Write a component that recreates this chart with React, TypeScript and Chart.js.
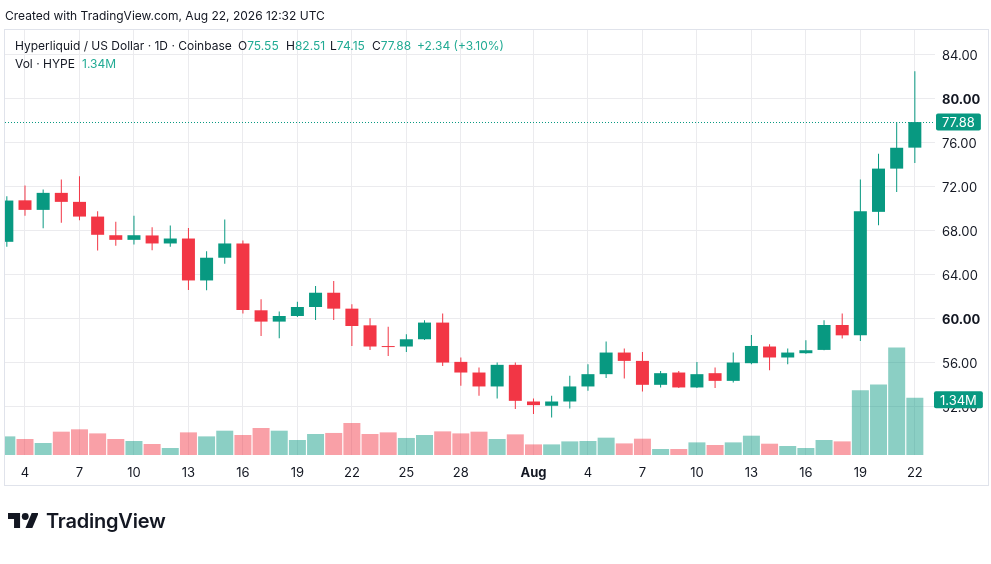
import React, { useEffect, useRef } from "react";
import { Chart, registerables } from "chart.js";

Chart.register(...registerables);

// ---------- data ----------
const DATES = [
  "Jul 3", "Jul 4", "Jul 5", "Jul 6", "Jul 7", "Jul 8", "Jul 9", "Jul 10", "Jul 11", "Jul 12",
  "Jul 13", "Jul 14", "Jul 15", "Jul 16", "Jul 17", "Jul 18", "Jul 19", "Jul 20", "Jul 21", "Jul 22",
  "Jul 23", "Jul 24", "Jul 25", "Jul 26", "Jul 27", "Jul 28", "Jul 29", "Jul 30", "Jul 31", "Aug 1",
  "Aug 2", "Aug 3", "Aug 4", "Aug 5", "Aug 6", "Aug 7", "Aug 8", "Aug 9", "Aug 10", "Aug 11",
  "Aug 12", "Aug 13", "Aug 14", "Aug 15", "Aug 16", "Aug 17", "Aug 18", "Aug 19", "Aug 20", "Aug 21",
  "Aug 22",
];
const OPEN = [
  66.97, 70.75, 69.88, 71.43, 70.61, 69.27, 67.57, 67.15, 67.55, 66.82,
  67.27, 63.45, 65.52, 66.82, 60.73, 59.70, 60.21, 61.03, 62.33, 60.88,
  59.36, 57.45, 57.43, 58.09, 59.61, 56.03, 55.06, 53.79, 55.76, 52.42,
  52.03, 52.42, 53.79, 54.91, 56.88, 56.12, 53.94, 55.06, 53.70, 55.00,
  54.30, 55.91, 57.43, 56.43, 56.82, 57.12, 59.39, 58.45, 69.70, 73.64,
  75.55,
];
const HIGH = [
  71.12, 72.09, 71.73, 72.64, 72.94, 69.75, 68.79, 69.34, 68.30, 68.45,
  68.24, 66.12, 69.00, 67.09, 61.73, 60.61, 61.52, 62.94, 63.39, 61.27,
  60.00, 59.24, 58.55, 59.82, 60.43, 56.43, 55.52, 55.97, 55.97, 52.70,
  52.94, 54.76, 55.82, 57.88, 57.24, 56.94, 55.21, 55.21, 56.03, 55.52,
  56.88, 58.48, 57.64, 57.24, 58.00, 59.82, 60.43, 72.64, 75.00, 77.88,
  82.51,
];
const LOW = [
  66.52, 69.34, 68.21, 68.70, 68.94, 66.18, 66.61, 66.73, 66.21, 66.52,
  62.57, 62.55, 64.97, 60.43, 58.39, 58.18, 60.12, 59.85, 59.85, 57.48,
  57.12, 56.57, 56.94, 58.03, 55.66, 53.85, 52.94, 52.70, 51.73, 51.27,
  50.97, 51.79, 53.39, 54.55, 54.52, 53.33, 53.70, 53.66, 53.65, 53.64,
  54.15, 55.82, 55.27, 55.82, 56.78, 57.08, 58.15, 57.94, 68.48, 71.52,
  74.15,
];
const CLOSE = [
  70.73, 69.88, 71.43, 70.61, 69.27, 67.61, 67.15, 67.57, 66.82, 67.27,
  63.45, 65.52, 66.82, 60.76, 59.70, 60.21, 61.03, 62.33, 60.88, 59.30,
  57.43, 57.38, 58.09, 59.61, 55.97, 55.06, 53.79, 55.76, 52.48, 52.09,
  52.42, 53.79, 54.91, 56.88, 56.12, 53.94, 55.00, 53.70, 54.91, 54.30,
  55.97, 57.48, 56.43, 56.88, 57.09, 59.39, 58.45, 69.76, 73.64, 75.54,
  77.88,
];
// volume in millions of HYPE
const VOLUME = [
  0.435, 0.374, 0.28, 0.545, 0.60, 0.505, 0.374, 0.327, 0.257, 0.164,
  0.529, 0.435, 0.568, 0.468, 0.631, 0.568, 0.351, 0.491, 0.515, 0.748,
  0.491, 0.529, 0.398, 0.468, 0.552, 0.505, 0.545, 0.374, 0.482, 0.248,
  0.248, 0.318, 0.327, 0.405, 0.271, 0.381, 0.14, 0.14, 0.295, 0.234,
  0.295, 0.451, 0.264, 0.21, 0.164, 0.351, 0.318, 1.51, 1.65, 2.51,
  1.34,
];
const TICK_DATES = [
  "Jul 4", "Jul 7", "Jul 10", "Jul 13", "Jul 16", "Jul 19", "Jul 22", "Jul 25", "Jul 28",
  "Aug 1", "Aug 4", "Aug 7", "Aug 10", "Aug 13", "Aug 16", "Aug 19", "Aug 22",
];
const TICK_LABELS = ["4", "7", "10", "13", "16", "19", "22", "25", "28", "Aug", "4", "7", "10", "13", "16", "19", "22"];
const PRICE_TICKS = [52, 56, 60, 64, 68, 72, 76, 80, 84];
const BOLD_PRICE_TICKS = [60, 80];

// ---------- style ----------
const UP = "#089981";
const DOWN = "#F23645";
const UP_VOL = "rgba(8,153,129,0.47)";
const DOWN_VOL = "rgba(242,54,69,0.47)";
const GRID = "#ebebee";
const TEXT = "#131722";
const LEGEND_GREEN = "#22ab94";
const FONT = "Inter, 'Noto Sans', sans-serif";

const N = DATES.length;
const isUp = (i: number) => CLOSE[i] >= OPEN[i];
const tickIndex = TICK_DATES.map((d) => DATES.indexOf(d));

function drawTag(ctx: CanvasRenderingContext2D, text: string, x: number, yc: number) {
  ctx.save();
  ctx.font = `13px ${FONT}`;
  const w = ctx.measureText(text).width + 12;
  const h = 17;
  ctx.fillStyle = UP;
  ctx.beginPath();
  const r = 2;
  const y = yc - h / 2;
  ctx.moveTo(x + r, y);
  ctx.lineTo(x + w - r, y);
  ctx.quadraticCurveTo(x + w, y, x + w, y + r);
  ctx.lineTo(x + w, y + h - r);
  ctx.quadraticCurveTo(x + w, y + h, x + w - r, y + h);
  ctx.lineTo(x + r, y + h);
  ctx.quadraticCurveTo(x, y + h, x, y + h - r);
  ctx.lineTo(x, y + r);
  ctx.quadraticCurveTo(x, y, x + r, y);
  ctx.fill();
  ctx.fillStyle = "#ffffff";
  ctx.textBaseline = "middle";
  ctx.textAlign = "left";
  ctx.fillText(text, x + 6, yc + 1);
  ctx.restore();
}

const overlayPlugin = {
  id: "overlay",
  afterDatasetsDraw(chart: any) {
    const { ctx, chartArea } = chart;
    const y = Math.round(chart.scales.y.getPixelForValue(CLOSE[N - 1])) + 0.5;
    ctx.save();
    ctx.strokeStyle = UP;
    ctx.lineWidth = 1;
    ctx.setLineDash([1, 2]);
    ctx.beginPath();
    ctx.moveTo(chartArea.left, y);
    ctx.lineTo(chartArea.right, y);
    ctx.stroke();
    ctx.restore();
  },
  afterDraw(chart: any) {
    const { ctx, chartArea } = chart;
    const yp = chart.scales.y.getPixelForValue(CLOSE[N - 1]);
    drawTag(ctx, CLOSE[N - 1].toFixed(2), chartArea.right + 1, yp);
    const yv = chart.scales.yVol.getPixelForValue(VOLUME[N - 1]);
    drawTag(ctx, `${VOLUME[N - 1].toFixed(2)}M`, chartArea.right - 1, yv + 2);
  },
};

function CandleChart() {
  const ref = useRef<HTMLCanvasElement | null>(null);
  useEffect(() => {
    if (!ref.current) return;
    const barCommon = {
      grouped: false,
      categoryPercentage: 1,
      barPercentage: 1,
      borderWidth: 0,
      inflateAmount: 0,
    };
    const chart = new Chart(ref.current, {
      type: "bar",
      data: {
        datasets: [
          {
            ...barCommon,
            label: "Volume",
            yAxisID: "yVol",
            data: VOLUME.map((v, i) => ({ x: i, y: v })),
            backgroundColor: VOLUME.map((_, i) => (isUp(i) ? UP_VOL : DOWN_VOL)),
            maxBarThickness: 17,
            order: 3,
          } as any,
          {
            ...barCommon,
            label: "Wick",
            yAxisID: "y",
            data: LOW.map((l, i) => ({ x: i, y: [l, HIGH[i]] })),
            backgroundColor: LOW.map((_, i) => (isUp(i) ? UP : DOWN)),
            maxBarThickness: 1,
            order: 2,
          } as any,
          {
            ...barCommon,
            label: "Body",
            yAxisID: "y",
            data: OPEN.map((o, i) => ({ x: i, y: [o, CLOSE[i]] })),
            backgroundColor: OPEN.map((_, i) => (isUp(i) ? UP : DOWN)),
            maxBarThickness: 13,
            minBarLength: 1,
            order: 1,
          } as any,
        ],
      },
      options: {
        animation: false,
        responsive: false,
        maintainAspectRatio: false,
        events: [],
        layout: { padding: { left: 5, top: 30, right: 3, bottom: 78 } },
        plugins: {
          legend: { display: false },
          title: { display: false },
          tooltip: { enabled: false },
        },
        scales: {
          x: {
            type: "linear",
            position: "bottom",
            min: -0.101,
            max: 51.11,
            offset: false,
            afterBuildTicks: (scale: any) => {
              scale.ticks = tickIndex.map((v) => ({ value: v }));
            },
            afterFit: (scale: any) => {
              scale.height = 31;
            },
            grid: { color: GRID, drawTicks: false, offset: false },
            border: { display: false },
            ticks: {
              autoSkip: false,
              maxRotation: 0,
              padding: 10,
              color: TEXT,
              font: (c: any) => ({
                family: FONT,
                size: 13,
                weight: c.tick && TICK_LABELS[tickIndex.indexOf(c.tick.value)] === "Aug" ? "bold" : "normal",
              }),
              callback: (v: any) => TICK_LABELS[tickIndex.indexOf(Number(v))] ?? "",
            },
          } as any,
          y: {
            type: "linear",
            position: "right",
            min: 47.545,
            max: 86.27,
            afterBuildTicks: (scale: any) => {
              scale.ticks = PRICE_TICKS.map((v) => ({ value: v }));
            },
            afterFit: (scale: any) => {
              scale.width = 53;
            },
            grid: { color: GRID, drawTicks: false },
            border: { display: false },
            ticks: {
              padding: 7,
              labelOffset: 1.5,
              color: TEXT,
              font: (c: any) => ({
                family: FONT,
                size: 13,
                weight: c.tick && BOLD_PRICE_TICKS.includes(c.tick.value) ? "bold" : "normal",
              }),
              callback: (v: any) => Number(v).toFixed(2),
            },
          } as any,
          yVol: {
            type: "linear",
            display: false,
            min: 0,
            max: 9.93,
          },
        },
      } as any,
      plugins: [overlayPlugin],
    });
    return () => chart.destroy();
  }, []);
  return (
    <canvas
      ref={ref}
      width={991}
      height={564}
      style={{ position: "absolute", left: 0, top: 0, width: 991, height: 564 }}
    />
  );
}

const txt: React.CSSProperties = {
  position: "absolute",
  fontFamily: FONT,
  fontSize: 12,
  lineHeight: "16px",
  color: TEXT,
  whiteSpace: "nowrap",
};

export default function App() {
  const last = N - 1;
  const chg = CLOSE[last] - CLOSE[last - 1];
  const pct = (chg / CLOSE[last - 1]) * 100;
  const green = { color: LEGEND_GREEN };
  return (
    <div
      style={{
        position: "absolute",
        left: 0,
        top: 0,
        width: 991,
        height: 564,
        background: "#ffffff",
        overflow: "hidden",
      }}
    >
      <div
        style={{
          position: "absolute",
          left: 4,
          top: 29,
          width: 985,
          height: 457,
          border: "1px solid #e0e3eb",
          boxSizing: "border-box",
        }}
      />
      <CandleChart />
      <div style={{ ...txt, left: 5, top: 8 }}>Created with TradingView.com, Aug 22, 2026 12:32 UTC</div>
      <div style={{ ...txt, left: 15, top: 38 }}>Hyperliquid / US Dollar · 1D · Coinbase</div>
      <div style={{ ...txt, left: 238, top: 38 }}>
        O<span style={green}>{OPEN[last].toFixed(2)}</span>
      </div>
      <div style={{ ...txt, left: 286, top: 38 }}>
        H<span style={green}>{HIGH[last].toFixed(2)}</span>
      </div>
      <div style={{ ...txt, left: 330, top: 38 }}>
        L<span style={green}>{LOW[last].toFixed(2)}</span>
      </div>
      <div style={{ ...txt, left: 372, top: 38 }}>
        C<span style={green}>{CLOSE[last].toFixed(2)}</span>
      </div>
      <div style={{ ...txt, ...green, left: 417, top: 38 }}>
        {`+${chg.toFixed(2)} (+${pct.toFixed(2)}%)`}
      </div>
      <div style={{ ...txt, left: 15, top: 56 }}>Vol · HYPE</div>
      <div style={{ ...txt, ...green, left: 82, top: 56 }}>{`${VOLUME[last].toFixed(2)}M`}</div>
      <svg
        style={{ position: "absolute", left: 7.7, top: 512.7 }}
        width={30.6}
        height={15.5}
        viewBox="0 4 35.5 18"
      >
        <path d="M14 22H7V11H0V4h14v18zM28 22h-8l7.5-18h8L28 22z" fill="#131722" />
        <circle cx="20" cy="8" r="4" fill="#131722" />
      </svg>
      <div
        style={{
          ...txt,
          left: 46,
          top: 508,
          fontSize: 20,
          lineHeight: "26px",
          fontWeight: 600,
          letterSpacing: -0.2,
        }}
      >
        TradingView
      </div>
    </div>
  );
}
